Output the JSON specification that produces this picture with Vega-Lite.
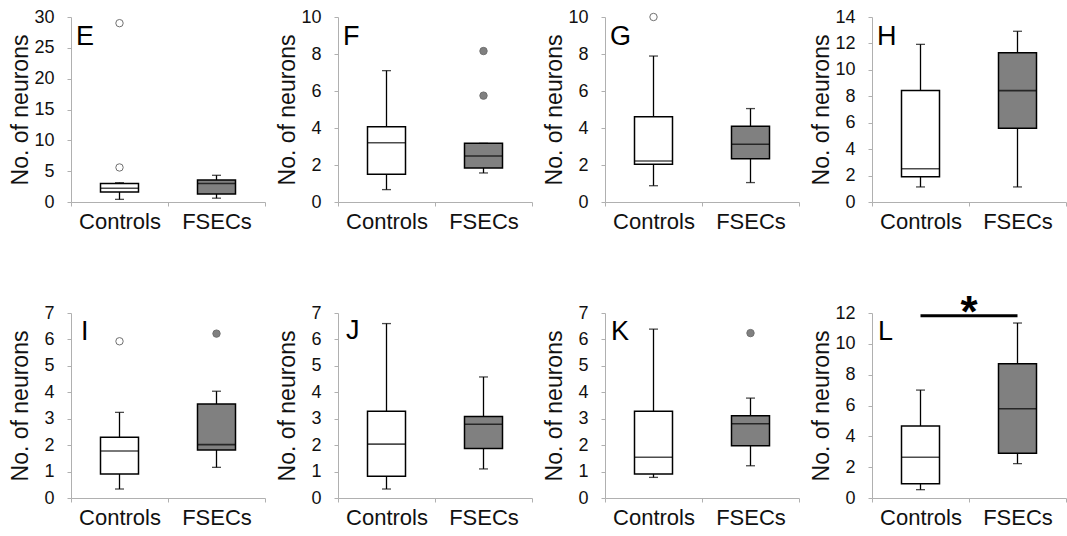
{
"$schema": "https://vega.github.io/schema/vega-lite/v6.json",
"padding": {"left": 8, "top": 8, "right": 2, "bottom": 5},
"background": "white",
"bounds": "flush",
"columns": 4,
"spacing": {"row": 111, "column": 73},
"datasets": {
"boxes": [
{"panel":"E","group":"Controls","lower":0.43,"q1":1.62,"median":2.22,"q3":3.0,"upper":3.13},
{"panel":"E","group":"FSECs","lower":0.62,"q1":1.3,"median":3.0,"q3":3.55,"upper":4.33},
{"panel":"F","group":"Controls","lower":0.67,"q1":1.5,"median":3.2,"q3":4.07,"upper":7.1},
{"panel":"F","group":"FSECs","lower":1.57,"q1":1.84,"median":2.49,"q3":3.17,"upper":3.17},
{"panel":"G","group":"Controls","lower":0.88,"q1":2.04,"median":2.22,"q3":4.61,"upper":7.89},
{"panel":"G","group":"FSECs","lower":1.05,"q1":2.34,"median":3.12,"q3":4.09,"upper":5.05},
{"panel":"H","group":"Controls","lower":1.14,"q1":1.92,"median":2.52,"q3":8.43,"upper":11.93},
{"panel":"H","group":"FSECs","lower":1.14,"q1":5.58,"median":8.43,"q3":11.3,"upper":12.92},
{"panel":"I","group":"Controls","lower":0.34,"q1":0.91,"median":1.78,"q3":2.3,"upper":3.24},
{"panel":"I","group":"FSECs","lower":1.16,"q1":1.82,"median":2.02,"q3":3.56,"upper":4.04},
{"panel":"J","group":"Controls","lower":0.34,"q1":0.82,"median":2.04,"q3":3.28,"upper":6.6},
{"panel":"J","group":"FSECs","lower":1.1,"q1":1.87,"median":2.79,"q3":3.08,"upper":4.58},
{"panel":"K","group":"Controls","lower":0.78,"q1":0.91,"median":1.54,"q3":3.28,"upper":6.39},
{"panel":"K","group":"FSECs","lower":1.22,"q1":1.98,"median":2.81,"q3":3.11,"upper":3.78},
{"panel":"L","group":"Controls","lower":0.54,"q1":0.93,"median":2.64,"q3":4.67,"upper":7.0},
{"panel":"L","group":"FSECs","lower":2.23,"q1":2.9,"median":5.79,"q3":8.71,"upper":11.35}
],
"outliers": [
{"panel":"E","group":"Controls","value":5.6},
{"panel":"E","group":"Controls","value":29.0},
{"panel":"F","group":"FSECs","value":5.75},
{"panel":"F","group":"FSECs","value":8.16},
{"panel":"G","group":"Controls","value":10.0},
{"panel":"I","group":"Controls","value":5.93},
{"panel":"I","group":"FSECs","value":6.22},
{"panel":"K","group":"FSECs","value":6.24}
],
"letters": [
{"panel":"E","letter":"E"},{"panel":"F","letter":"F"},{"panel":"G","letter":"G"},{"panel":"H","letter":"H"},
{"panel":"I","letter":"I"},{"panel":"J","letter":"J"},{"panel":"K","letter":"K"},{"panel":"L","letter":"L"}
]
},
"config": {
"font": "Liberation Sans",
"view": {"stroke": null},
"axis": {"labelFont": "Liberation Sans", "titleFont": "Liberation Sans", "labelColor": "#111", "titleColor": "#111", "domainColor": "#b0b0b0", "tickColor": "#b0b0b0", "grid": false, "labelOverlap": false, "labelFlush": false},
"axisY": {"tickSize": 4, "labelPadding": 13, "labelFontSize": 18, "titleFontSize": 23, "titleFontWeight": "normal", "titleX": -51, "titleY": 92.5, "titleBaseline": "middle", "titleAngle": -90, "labelOverlap": false, "tickCount": 20, "format": "d"},
"axisX": {"labelAngle": 0, "labelFontSize": 22, "tickBand": "extent", "tickSize": 4, "labelPadding": 5}
},
"concat": [
{"width":194,"height":185,"layer":[
{"data":{"name":"boxes"},"transform":[{"filter":"datum.panel==='E'"}],"mark":{"type":"rule","color":"#000","strokeWidth":1.3},
 "encoding":{"x":{"field":"group","type":"nominal","title":null,"scale":{"type":"band","domain":["Controls","FSECs"],"paddingInner":0,"paddingOuter":0}},
 "y":{"field":"lower","type":"quantitative","scale":{"domain":[0,30],"nice":false},"axis":{"values":[0,5,10,15,20,25,30],"format":"d","tickCount":20,"labelOverlap":false,"labelFlush":false,"title":"No. of neurons"}},"y2":{"field":"upper"}}},
{"data":{"name":"boxes"},"transform":[{"filter":"datum.panel==='E'"}],"mark":{"type":"tick","color":"#000","size":9,"thickness":1.3},"encoding":{"x":{"field":"group","type":"nominal"},"y":{"field":"lower","type":"quantitative"}}},
{"data":{"name":"boxes"},"transform":[{"filter":"datum.panel==='E'"}],"mark":{"type":"tick","color":"#000","size":9,"thickness":1.3},"encoding":{"x":{"field":"group","type":"nominal"},"y":{"field":"upper","type":"quantitative"}}},
{"data":{"name":"boxes"},"transform":[{"filter":"datum.panel==='E'"}],"mark":{"type":"bar","size":38,"stroke":"#000","strokeWidth":1.5},"encoding":{"x":{"field":"group","type":"nominal"},"y":{"field":"q1","type":"quantitative"},"y2":{"field":"q3"},"fill":{"field":"group","type":"nominal","scale":{"domain":["Controls","FSECs"],"range":["#ffffff","#808080"]},"legend":null}}},
{"data":{"name":"boxes"},"transform":[{"filter":"datum.panel==='E'"}],"mark":{"type":"tick","color":"#000","size":38,"thickness":1.6},"encoding":{"x":{"field":"group","type":"nominal"},"y":{"field":"median","type":"quantitative"}}},
{"data":{"name":"outliers"},"transform":[{"filter":"datum.panel==='E'"}],"mark":{"type":"point","shape":"circle","filled":true,"size":55,"stroke":"#707070","strokeWidth":1,"opacity":1},"encoding":{"x":{"field":"group","type":"nominal"},"y":{"field":"value","type":"quantitative"},"fill":{"field":"group","type":"nominal"}}},
{"data":{"name":"letters"},"transform":[{"filter":"datum.panel==='E'"}],"mark":{"type":"text","align":"left","baseline":"alphabetic","dx":5,"dy":28,"fontSize":27,"color":"#000"},"encoding":{"x":{"datum":"Controls","type":"nominal","bandPosition":0},"y":{"datum":30,"type":"quantitative"},"text":{"field":"letter"}}}
]},
{"width":194,"height":185,"layer":[
{"data":{"name":"boxes"},"transform":[{"filter":"datum.panel==='F'"}],"mark":{"type":"rule","color":"#000","strokeWidth":1.3},
 "encoding":{"x":{"field":"group","type":"nominal","title":null,"scale":{"type":"band","domain":["Controls","FSECs"],"paddingInner":0,"paddingOuter":0}},
 "y":{"field":"lower","type":"quantitative","scale":{"domain":[0,10],"nice":false},"axis":{"values":[0,2,4,6,8,10],"format":"d","tickCount":20,"labelOverlap":false,"labelFlush":false,"title":"No. of neurons"}},"y2":{"field":"upper"}}},
{"data":{"name":"boxes"},"transform":[{"filter":"datum.panel==='F'"}],"mark":{"type":"tick","color":"#000","size":9,"thickness":1.3},"encoding":{"x":{"field":"group","type":"nominal"},"y":{"field":"lower","type":"quantitative"}}},
{"data":{"name":"boxes"},"transform":[{"filter":"datum.panel==='F'"}],"mark":{"type":"tick","color":"#000","size":9,"thickness":1.3},"encoding":{"x":{"field":"group","type":"nominal"},"y":{"field":"upper","type":"quantitative"}}},
{"data":{"name":"boxes"},"transform":[{"filter":"datum.panel==='F'"}],"mark":{"type":"bar","size":38,"stroke":"#000","strokeWidth":1.5},"encoding":{"x":{"field":"group","type":"nominal"},"y":{"field":"q1","type":"quantitative"},"y2":{"field":"q3"},"fill":{"field":"group","type":"nominal","scale":{"domain":["Controls","FSECs"],"range":["#ffffff","#808080"]},"legend":null}}},
{"data":{"name":"boxes"},"transform":[{"filter":"datum.panel==='F'"}],"mark":{"type":"tick","color":"#000","size":38,"thickness":1.6},"encoding":{"x":{"field":"group","type":"nominal"},"y":{"field":"median","type":"quantitative"}}},
{"data":{"name":"outliers"},"transform":[{"filter":"datum.panel==='F'"}],"mark":{"type":"point","shape":"circle","filled":true,"size":55,"stroke":"#707070","strokeWidth":1,"opacity":1},"encoding":{"x":{"field":"group","type":"nominal"},"y":{"field":"value","type":"quantitative"},"fill":{"field":"group","type":"nominal"}}},
{"data":{"name":"letters"},"transform":[{"filter":"datum.panel==='F'"}],"mark":{"type":"text","align":"left","baseline":"alphabetic","dx":5,"dy":28,"fontSize":27,"color":"#000"},"encoding":{"x":{"datum":"Controls","type":"nominal","bandPosition":0},"y":{"datum":10,"type":"quantitative"},"text":{"field":"letter"}}}
]},
{"width":194,"height":185,"layer":[
{"data":{"name":"boxes"},"transform":[{"filter":"datum.panel==='G'"}],"mark":{"type":"rule","color":"#000","strokeWidth":1.3},
 "encoding":{"x":{"field":"group","type":"nominal","title":null,"scale":{"type":"band","domain":["Controls","FSECs"],"paddingInner":0,"paddingOuter":0}},
 "y":{"field":"lower","type":"quantitative","scale":{"domain":[0,10],"nice":false},"axis":{"values":[0,2,4,6,8,10],"format":"d","tickCount":20,"labelOverlap":false,"labelFlush":false,"title":"No. of neurons"}},"y2":{"field":"upper"}}},
{"data":{"name":"boxes"},"transform":[{"filter":"datum.panel==='G'"}],"mark":{"type":"tick","color":"#000","size":9,"thickness":1.3},"encoding":{"x":{"field":"group","type":"nominal"},"y":{"field":"lower","type":"quantitative"}}},
{"data":{"name":"boxes"},"transform":[{"filter":"datum.panel==='G'"}],"mark":{"type":"tick","color":"#000","size":9,"thickness":1.3},"encoding":{"x":{"field":"group","type":"nominal"},"y":{"field":"upper","type":"quantitative"}}},
{"data":{"name":"boxes"},"transform":[{"filter":"datum.panel==='G'"}],"mark":{"type":"bar","size":38,"stroke":"#000","strokeWidth":1.5},"encoding":{"x":{"field":"group","type":"nominal"},"y":{"field":"q1","type":"quantitative"},"y2":{"field":"q3"},"fill":{"field":"group","type":"nominal","scale":{"domain":["Controls","FSECs"],"range":["#ffffff","#808080"]},"legend":null}}},
{"data":{"name":"boxes"},"transform":[{"filter":"datum.panel==='G'"}],"mark":{"type":"tick","color":"#000","size":38,"thickness":1.6},"encoding":{"x":{"field":"group","type":"nominal"},"y":{"field":"median","type":"quantitative"}}},
{"data":{"name":"outliers"},"transform":[{"filter":"datum.panel==='G'"}],"mark":{"type":"point","shape":"circle","filled":true,"size":55,"stroke":"#707070","strokeWidth":1,"opacity":1,"clip":false},"encoding":{"x":{"field":"group","type":"nominal"},"y":{"field":"value","type":"quantitative"},"fill":{"field":"group","type":"nominal"}}},
{"data":{"name":"letters"},"transform":[{"filter":"datum.panel==='G'"}],"mark":{"type":"text","align":"left","baseline":"alphabetic","dx":5,"dy":28,"fontSize":27,"color":"#000"},"encoding":{"x":{"datum":"Controls","type":"nominal","bandPosition":0},"y":{"datum":10,"type":"quantitative"},"text":{"field":"letter"}}}
]},
{"width":194,"height":185,"layer":[
{"data":{"name":"boxes"},"transform":[{"filter":"datum.panel==='H'"}],"mark":{"type":"rule","color":"#000","strokeWidth":1.3},
 "encoding":{"x":{"field":"group","type":"nominal","title":null,"scale":{"type":"band","domain":["Controls","FSECs"],"paddingInner":0,"paddingOuter":0}},
 "y":{"field":"lower","type":"quantitative","scale":{"domain":[0,14],"nice":false},"axis":{"values":[0,2,4,6,8,10,12,14],"format":"d","tickCount":20,"labelOverlap":false,"labelFlush":false,"title":"No. of neurons"}},"y2":{"field":"upper"}}},
{"data":{"name":"boxes"},"transform":[{"filter":"datum.panel==='H'"}],"mark":{"type":"tick","color":"#000","size":9,"thickness":1.3},"encoding":{"x":{"field":"group","type":"nominal"},"y":{"field":"lower","type":"quantitative"}}},
{"data":{"name":"boxes"},"transform":[{"filter":"datum.panel==='H'"}],"mark":{"type":"tick","color":"#000","size":9,"thickness":1.3},"encoding":{"x":{"field":"group","type":"nominal"},"y":{"field":"upper","type":"quantitative"}}},
{"data":{"name":"boxes"},"transform":[{"filter":"datum.panel==='H'"}],"mark":{"type":"bar","size":38,"stroke":"#000","strokeWidth":1.5},"encoding":{"x":{"field":"group","type":"nominal"},"y":{"field":"q1","type":"quantitative"},"y2":{"field":"q3"},"fill":{"field":"group","type":"nominal","scale":{"domain":["Controls","FSECs"],"range":["#ffffff","#808080"]},"legend":null}}},
{"data":{"name":"boxes"},"transform":[{"filter":"datum.panel==='H'"}],"mark":{"type":"tick","color":"#000","size":38,"thickness":1.6},"encoding":{"x":{"field":"group","type":"nominal"},"y":{"field":"median","type":"quantitative"}}},
{"data":{"name":"letters"},"transform":[{"filter":"datum.panel==='H'"}],"mark":{"type":"text","align":"left","baseline":"alphabetic","dx":5,"dy":28,"fontSize":27,"color":"#000"},"encoding":{"x":{"datum":"Controls","type":"nominal","bandPosition":0},"y":{"datum":14,"type":"quantitative"},"text":{"field":"letter"}}}
]},
{"width":194,"height":185,"layer":[
{"data":{"name":"boxes"},"transform":[{"filter":"datum.panel==='I'"}],"mark":{"type":"rule","color":"#000","strokeWidth":1.3},
 "encoding":{"x":{"field":"group","type":"nominal","title":null,"scale":{"type":"band","domain":["Controls","FSECs"],"paddingInner":0,"paddingOuter":0}},
 "y":{"field":"lower","type":"quantitative","scale":{"domain":[0,7],"nice":false},"axis":{"values":[0,1,2,3,4,5,6,7],"format":"d","tickCount":20,"labelOverlap":false,"labelFlush":false,"title":"No. of neurons"}},"y2":{"field":"upper"}}},
{"data":{"name":"boxes"},"transform":[{"filter":"datum.panel==='I'"}],"mark":{"type":"tick","color":"#000","size":9,"thickness":1.3},"encoding":{"x":{"field":"group","type":"nominal"},"y":{"field":"lower","type":"quantitative"}}},
{"data":{"name":"boxes"},"transform":[{"filter":"datum.panel==='I'"}],"mark":{"type":"tick","color":"#000","size":9,"thickness":1.3},"encoding":{"x":{"field":"group","type":"nominal"},"y":{"field":"upper","type":"quantitative"}}},
{"data":{"name":"boxes"},"transform":[{"filter":"datum.panel==='I'"}],"mark":{"type":"bar","size":38,"stroke":"#000","strokeWidth":1.5},"encoding":{"x":{"field":"group","type":"nominal"},"y":{"field":"q1","type":"quantitative"},"y2":{"field":"q3"},"fill":{"field":"group","type":"nominal","scale":{"domain":["Controls","FSECs"],"range":["#ffffff","#808080"]},"legend":null}}},
{"data":{"name":"boxes"},"transform":[{"filter":"datum.panel==='I'"}],"mark":{"type":"tick","color":"#000","size":38,"thickness":1.6},"encoding":{"x":{"field":"group","type":"nominal"},"y":{"field":"median","type":"quantitative"}}},
{"data":{"name":"outliers"},"transform":[{"filter":"datum.panel==='I'"}],"mark":{"type":"point","shape":"circle","filled":true,"size":55,"stroke":"#707070","strokeWidth":1,"opacity":1},"encoding":{"x":{"field":"group","type":"nominal"},"y":{"field":"value","type":"quantitative"},"fill":{"field":"group","type":"nominal"}}},
{"data":{"name":"letters"},"transform":[{"filter":"datum.panel==='I'"}],"mark":{"type":"text","align":"left","baseline":"alphabetic","dx":10,"dy":27,"fontSize":27,"color":"#000"},"encoding":{"x":{"datum":"Controls","type":"nominal","bandPosition":0},"y":{"datum":7,"type":"quantitative"},"text":{"field":"letter"}}}
]},
{"width":194,"height":185,"layer":[
{"data":{"name":"boxes"},"transform":[{"filter":"datum.panel==='J'"}],"mark":{"type":"rule","color":"#000","strokeWidth":1.3},
 "encoding":{"x":{"field":"group","type":"nominal","title":null,"scale":{"type":"band","domain":["Controls","FSECs"],"paddingInner":0,"paddingOuter":0}},
 "y":{"field":"lower","type":"quantitative","scale":{"domain":[0,7],"nice":false},"axis":{"values":[0,1,2,3,4,5,6,7],"format":"d","tickCount":20,"labelOverlap":false,"labelFlush":false,"title":"No. of neurons"}},"y2":{"field":"upper"}}},
{"data":{"name":"boxes"},"transform":[{"filter":"datum.panel==='J'"}],"mark":{"type":"tick","color":"#000","size":9,"thickness":1.3},"encoding":{"x":{"field":"group","type":"nominal"},"y":{"field":"lower","type":"quantitative"}}},
{"data":{"name":"boxes"},"transform":[{"filter":"datum.panel==='J'"}],"mark":{"type":"tick","color":"#000","size":9,"thickness":1.3},"encoding":{"x":{"field":"group","type":"nominal"},"y":{"field":"upper","type":"quantitative"}}},
{"data":{"name":"boxes"},"transform":[{"filter":"datum.panel==='J'"}],"mark":{"type":"bar","size":38,"stroke":"#000","strokeWidth":1.5},"encoding":{"x":{"field":"group","type":"nominal"},"y":{"field":"q1","type":"quantitative"},"y2":{"field":"q3"},"fill":{"field":"group","type":"nominal","scale":{"domain":["Controls","FSECs"],"range":["#ffffff","#808080"]},"legend":null}}},
{"data":{"name":"boxes"},"transform":[{"filter":"datum.panel==='J'"}],"mark":{"type":"tick","color":"#000","size":38,"thickness":1.6},"encoding":{"x":{"field":"group","type":"nominal"},"y":{"field":"median","type":"quantitative"}}},
{"data":{"name":"letters"},"transform":[{"filter":"datum.panel==='J'"}],"mark":{"type":"text","align":"left","baseline":"alphabetic","dx":8,"dy":26,"fontSize":27,"color":"#000"},"encoding":{"x":{"datum":"Controls","type":"nominal","bandPosition":0},"y":{"datum":7,"type":"quantitative"},"text":{"field":"letter"}}}
]},
{"width":194,"height":185,"layer":[
{"data":{"name":"boxes"},"transform":[{"filter":"datum.panel==='K'"}],"mark":{"type":"rule","color":"#000","strokeWidth":1.3},
 "encoding":{"x":{"field":"group","type":"nominal","title":null,"scale":{"type":"band","domain":["Controls","FSECs"],"paddingInner":0,"paddingOuter":0}},
 "y":{"field":"lower","type":"quantitative","scale":{"domain":[0,7],"nice":false},"axis":{"values":[0,1,2,3,4,5,6,7],"format":"d","tickCount":20,"labelOverlap":false,"labelFlush":false,"title":"No. of neurons"}},"y2":{"field":"upper"}}},
{"data":{"name":"boxes"},"transform":[{"filter":"datum.panel==='K'"}],"mark":{"type":"tick","color":"#000","size":9,"thickness":1.3},"encoding":{"x":{"field":"group","type":"nominal"},"y":{"field":"lower","type":"quantitative"}}},
{"data":{"name":"boxes"},"transform":[{"filter":"datum.panel==='K'"}],"mark":{"type":"tick","color":"#000","size":9,"thickness":1.3},"encoding":{"x":{"field":"group","type":"nominal"},"y":{"field":"upper","type":"quantitative"}}},
{"data":{"name":"boxes"},"transform":[{"filter":"datum.panel==='K'"}],"mark":{"type":"bar","size":38,"stroke":"#000","strokeWidth":1.5},"encoding":{"x":{"field":"group","type":"nominal"},"y":{"field":"q1","type":"quantitative"},"y2":{"field":"q3"},"fill":{"field":"group","type":"nominal","scale":{"domain":["Controls","FSECs"],"range":["#ffffff","#808080"]},"legend":null}}},
{"data":{"name":"boxes"},"transform":[{"filter":"datum.panel==='K'"}],"mark":{"type":"tick","color":"#000","size":38,"thickness":1.6},"encoding":{"x":{"field":"group","type":"nominal"},"y":{"field":"median","type":"quantitative"}}},
{"data":{"name":"outliers"},"transform":[{"filter":"datum.panel==='K'"}],"mark":{"type":"point","shape":"circle","filled":true,"size":55,"stroke":"#707070","strokeWidth":1,"opacity":1},"encoding":{"x":{"field":"group","type":"nominal"},"y":{"field":"value","type":"quantitative"},"fill":{"field":"group","type":"nominal"}}},
{"data":{"name":"letters"},"transform":[{"filter":"datum.panel==='K'"}],"mark":{"type":"text","align":"left","baseline":"alphabetic","dx":6,"dy":27,"fontSize":27,"color":"#000"},"encoding":{"x":{"datum":"Controls","type":"nominal","bandPosition":0},"y":{"datum":7,"type":"quantitative"},"text":{"field":"letter"}}}
]},
{"width":194,"height":185,"layer":[
{"data":{"name":"boxes"},"transform":[{"filter":"datum.panel==='L'"}],"mark":{"type":"rule","color":"#000","strokeWidth":1.3},
 "encoding":{"x":{"field":"group","type":"nominal","title":null,"scale":{"type":"band","domain":["Controls","FSECs"],"paddingInner":0,"paddingOuter":0}},
 "y":{"field":"lower","type":"quantitative","scale":{"domain":[0,12],"nice":false},"axis":{"values":[0,2,4,6,8,10,12],"format":"d","tickCount":20,"labelOverlap":false,"labelFlush":false,"title":"No. of neurons"}},"y2":{"field":"upper"}}},
{"data":{"name":"boxes"},"transform":[{"filter":"datum.panel==='L'"}],"mark":{"type":"tick","color":"#000","size":9,"thickness":1.3},"encoding":{"x":{"field":"group","type":"nominal"},"y":{"field":"lower","type":"quantitative"}}},
{"data":{"name":"boxes"},"transform":[{"filter":"datum.panel==='L'"}],"mark":{"type":"tick","color":"#000","size":9,"thickness":1.3},"encoding":{"x":{"field":"group","type":"nominal"},"y":{"field":"upper","type":"quantitative"}}},
{"data":{"name":"boxes"},"transform":[{"filter":"datum.panel==='L'"}],"mark":{"type":"bar","size":38,"stroke":"#000","strokeWidth":1.5},"encoding":{"x":{"field":"group","type":"nominal"},"y":{"field":"q1","type":"quantitative"},"y2":{"field":"q3"},"fill":{"field":"group","type":"nominal","scale":{"domain":["Controls","FSECs"],"range":["#ffffff","#808080"]},"legend":null}}},
{"data":{"name":"boxes"},"transform":[{"filter":"datum.panel==='L'"}],"mark":{"type":"tick","color":"#000","size":38,"thickness":1.6},"encoding":{"x":{"field":"group","type":"nominal"},"y":{"field":"median","type":"quantitative"}}},
{"data":{"name":"letters"},"transform":[{"filter":"datum.panel==='L'"}],"mark":{"type":"text","align":"left","baseline":"alphabetic","dx":6,"dy":27,"fontSize":27,"color":"#000"},"encoding":{"x":{"datum":"Controls","type":"nominal","bandPosition":0},"y":{"datum":12,"type":"quantitative"},"text":{"field":"letter"}}},
{"data":{"name":"letters"},"transform":[{"filter":"datum.panel==='L'"}],"mark":{"type":"rule","color":"#000","strokeWidth":3,"clip":false},"encoding":{"x":{"datum":"Controls","type":"nominal"},"x2":{"datum":"FSECs"},"y":{"datum":11.82,"type":"quantitative"}}},
{"data":{"name":"letters"},"transform":[{"filter":"datum.panel==='L'"}],"mark":{"type":"text","align":"center","baseline":"alphabetic","fontSize":44,"fontWeight":"bold","color":"#000","clip":false},"encoding":{"x":{"datum":"Controls","type":"nominal","bandPosition":1},"y":{"datum":11.1,"type":"quantitative"},"text":{"value":"*"}}}
]}
]
}
